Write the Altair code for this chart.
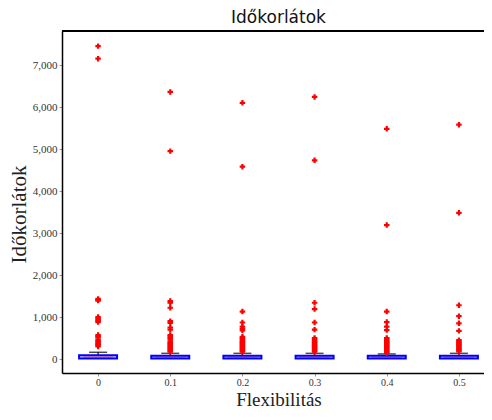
import altair as alt
import pandas as pd

flex = ["0", "0.1", "0.2", "0.3", "0.4", "0.5"]
q1 = [15, 12, 12, 12, 12, 12]
median = [42, 38, 38, 38, 36, 38]
q3 = [88, 80, 80, 80, 75, 78]
whisk_lo = [0, 0, 0, 0, 0, 0]
whisk_hi = [160, 135, 135, 135, 120, 135]

outliers = {
    "0": [7450, 7150, 1430, 1410, 1390, 1000, 970, 940, 910, 880, 570, 540, 510,
          450, 420, 390, 360, 330, 300],
    "0.1": [6360, 4950, 1380, 1340, 1220, 900, 860, 750, 700, 570, 540, 500, 460,
            410, 380, 350, 320, 290, 260, 230, 200, 175],
    "0.2": [6100, 4580, 1130, 870, 770, 720, 680, 530, 500, 470, 440, 410, 380,
            350, 320, 290, 260, 230, 200, 175],
    "0.3": [6240, 4730, 1340, 1190, 870, 700, 500, 470, 440, 410, 380, 350, 320,
            290, 260, 230, 200, 175],
    "0.4": [5480, 3190, 1130, 880, 770, 690, 500, 470, 440, 410, 380, 350, 320,
            290, 260, 230, 200, 170, 145],
    "0.5": [5580, 3480, 1280, 1020, 850, 670, 450, 420, 390, 360, 330, 300, 270,
            240, 210, 180],
}

W, H = 433, 342

box_df = pd.DataFrame({"flex": flex, "q1": q1, "median": median, "q3": q3,
                       "lo": whisk_lo, "hi": whisk_hi})
out_df = pd.DataFrame([{"flex": k, "v": v} for k, vals in outliers.items() for v in vals])

serif = "Liberation Serif"

x_enc = alt.X("flex:O", sort=flex,
              scale=alt.Scale(type="point", padding=0.5, domain=flex),
              axis=alt.Axis(title="Flexibilitás", labelAngle=0, labelFont=serif,
                            labelFontSize=10, labelColor="#333", titleFont=serif,
                            titleFontSize=19, titleFontWeight="normal", titleColor="#222",
                            titlePadding=3, domainColor="black", domainWidth=1.5,
                            tickColor="#999", tickSize=3, labelPadding=1))
y_scale = alt.Scale(domain=[-333, 7810], nice=False, zero=False)
y_axis = alt.Axis(title="Időkorlátok", values=[0, 1000, 2000, 3000, 4000, 5000, 6000, 7000],
                  format=",.0f", labelFont=serif, labelFontSize=11, labelColor="#333",
                  titleFont=serif, titleFontSize=21, titleFontWeight="normal",
                  titleColor="#222", titleX=-33, titleY=183,
                  domainColor="black", domainWidth=1.5,
                  tickColor="#999", tickSize=3, grid=False, labelPadding=2)

base = alt.Chart(box_df)

whisker = base.mark_rule(color="black", strokeWidth=1.2).encode(
    x=x_enc, y=alt.Y("q3:Q", scale=y_scale, axis=y_axis), y2="hi:Q")
cap = base.mark_tick(color="black", size=18, thickness=1.5).encode(
    x=x_enc, y=alt.Y("hi:Q", scale=y_scale, axis=y_axis))
box = base.mark_bar(size=38, fill="#c4c4f2", stroke="#0000ff", strokeWidth=2).encode(
    x=x_enc, y=alt.Y("q1:Q", scale=y_scale, axis=y_axis), y2="q3:Q")
med = base.mark_tick(color="red", size=30, thickness=1.2).encode(
    x=x_enc, y=alt.Y("median:Q", scale=y_scale, axis=y_axis))
pts = alt.Chart(out_df).mark_point(shape="cross", filled=True, color="red",
                                   size=30, opacity=1).encode(
    x=x_enc, y=alt.Y("v:Q", scale=y_scale, axis=y_axis))
top = base.mark_rule(color="black", strokeWidth=1.5).encode(
    x=alt.value(0), x2=alt.value(W), y=alt.value(0))

chart = alt.layer(whisker, cap, box, med, pts, top).properties(
    width=W, height=H,
    title=alt.TitleParams("Időkorlátok", font="DejaVu Sans", fontSize=17,
                          fontWeight="normal", color="#111", offset=3),
    autosize=alt.AutoSizeParams(type="none"),
    padding={"left": 54, "top": 23, "right": -11, "bottom": 35},
).configure_view(strokeWidth=0).configure(background="white")

chart.save("out.html", embed_options={"renderer": "svg", "actions": False})
